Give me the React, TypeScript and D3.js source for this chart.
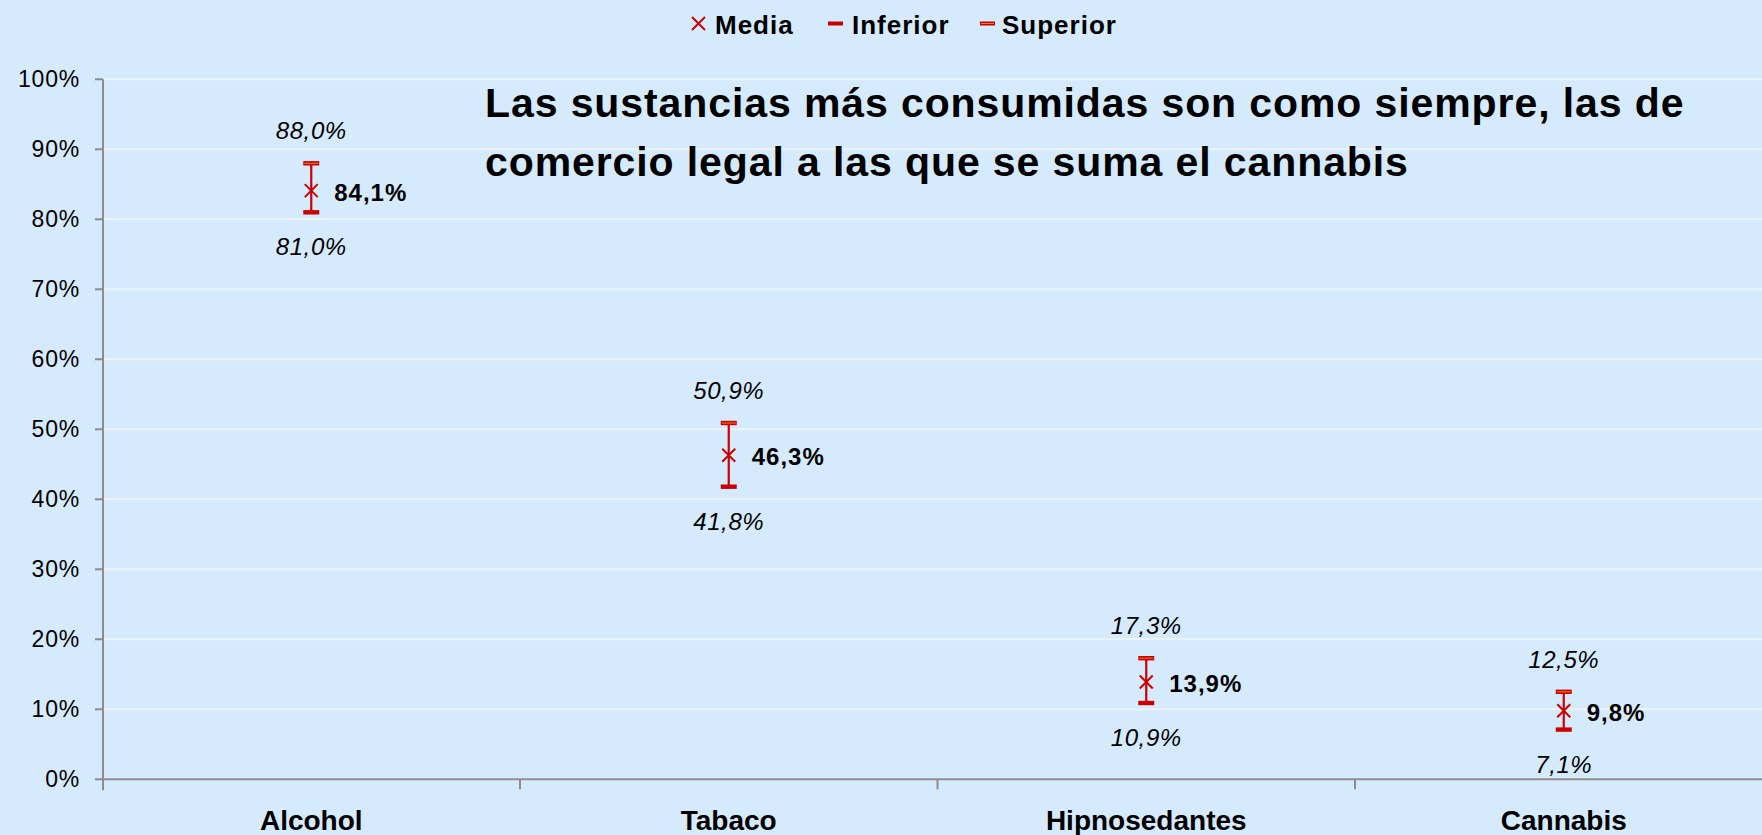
import React from "react";
import * as d3 from "d3";

const categories = ["Alcohol", "Tabaco", "Hipnosedantes", "Cannabis"];
const media = [84.1, 46.3, 13.9, 9.8];
const inferior = [81.0, 41.8, 10.9, 7.1];
const superior = [88.0, 50.9, 17.3, 12.5];
const yTicks = [0, 10, 20, 30, 40, 50, 60, 70, 80, 90, 100];
const titleLines = [
  "Las sustancias más consumidas son como siempre, las de",
  "comercio legal a las que se suma el cannabis",
];
const legendItems = ["Media", "Inferior", "Superior"];

const W = 1762;
const H = 835;
const BG = "#d5eafc";
const RED = "#cc0000";
const AXIS = "#8c8c8c";
const GRID = "#edf3f9";
const fmt = (v: number) => v.toFixed(1).replace(".", ",") + "%";

export default function App() {
  const x = d3.scaleBand<string>().domain(categories).range([102.5, 1772.5]);
  const y = d3.scaleLinear().domain([0, 100]).range([779.3, 79.3]);
  const bw = x.bandwidth();
  const sans = "'Liberation Sans', Arial, sans-serif";
  const legendX = [692, 828, 980];
  const legendTextX = [715, 852, 1002];

  return (
    <div style={{ position: "fixed", left: 0, top: 0, width: W, height: H, background: BG }}>
      <svg width={W} height={H} style={{ display: "block" }}>
        <rect x={0} y={0} width={W} height={H} fill={BG} />
        {/* gridlines */}
        {yTicks.map((t) => (
          <line key={"g" + t} x1={103} x2={W} y1={y(t)} y2={y(t)} stroke={GRID} strokeWidth={2} />
        ))}
        {/* y axis */}
        <line x1={103} x2={103} y1={y(100)} y2={y(0) + 11} stroke={AXIS} strokeWidth={2} />
        {yTicks.map((t) => (
          <g key={"t" + t}>
            <line x1={95} x2={103} y1={y(t)} y2={y(t)} stroke={AXIS} strokeWidth={2} />
            <text x={80} y={y(t)} dy="0.35em" textAnchor="end" fontFamily={sans} fontSize={23} letterSpacing={0.8} fill="#000">
              {t}%
            </text>
          </g>
        ))}
        {/* x axis */}
        <line x1={103} x2={W} y1={y(0)} y2={y(0)} stroke={AXIS} strokeWidth={2} />
        {categories.slice(1).map((c) => (
          <line key={"xt" + c} x1={x(c)!} x2={x(c)!} y1={y(0)} y2={y(0) + 10} stroke={AXIS} strokeWidth={2} />
        ))}
        {categories.map((c) => (
          <text key={"xl" + c} x={x(c)! + bw / 2} y={830} textAnchor="middle" fontFamily={sans} fontWeight="bold" fontSize={28} fill="#000">
            {c}
          </text>
        ))}
        {/* error bars */}
        {categories.map((c, i) => {
          const cx = x(c)! + bw / 2;
          const yu = y(superior[i]);
          const yl = y(inferior[i]);
          const ym = y(media[i]);
          return (
            <g key={"e" + c}>
              <line x1={cx} x2={cx} y1={yu} y2={yl} stroke={RED} strokeWidth={2.2} />
              <rect x={cx - 8} y={yu - 2.2} width={16} height={4.4} fill={RED} />
              <line x1={cx - 7} x2={cx + 7} y1={yu} y2={yu} stroke="#f08020" strokeWidth={1} />
              <rect x={cx - 8} y={yl - 2.2} width={16} height={4.4} fill={RED} />
              <path d={`M${cx - 6.5},${ym - 6.5}L${cx + 6.5},${ym + 6.5}M${cx - 6.5},${ym + 6.5}L${cx + 6.5},${ym - 6.5}`} stroke={RED} strokeWidth={2} />
              <text x={cx} y={yu - 24} textAnchor="middle" fontFamily={sans} fontStyle="italic" fontSize={24} letterSpacing={0.6} fill="#000">
                {fmt(superior[i])}
              </text>
              <text x={cx} y={yl + 43} textAnchor="middle" fontFamily={sans} fontStyle="italic" fontSize={24} letterSpacing={0.6} fill="#000">
                {fmt(inferior[i])}
              </text>
              <text x={cx + 23} y={ym + 10} fontFamily={sans} fontWeight="bold" fontSize={24} letterSpacing={1} fill="#000">
                {fmt(media[i])}
              </text>
            </g>
          );
        })}
        {/* legend */}
        <path d={`M${legendX[0]},${17}L${legendX[0] + 13},${30}M${legendX[0]},${30}L${legendX[0] + 13},${17}`} stroke={RED} strokeWidth={2} />
        <rect x={legendX[1]} y={21.5} width={15} height={4} fill={RED} />
        <rect x={legendX[2]} y={21.5} width={15} height={4} fill={RED} />
        <line x1={legendX[2] + 1} x2={legendX[2] + 14} y1={23.5} y2={23.5} stroke="#f08020" strokeWidth={1} />
        {legendItems.map((l, i) => (
          <text key={"l" + l} x={legendTextX[i]} y={34.3} fontFamily={sans} fontWeight="bold" fontSize={26} letterSpacing={1} fill="#000">
            {l}
          </text>
        ))}
        {/* title */}
        {titleLines.map((t, i) => (
          <text key={"ti" + i} x={485} y={117.3 + i * 58.7} fontFamily={sans} fontWeight="bold" fontSize={41} letterSpacing={0.9} fill="#000">
            {t}
          </text>
        ))}
      </svg>
    </div>
  );
}
